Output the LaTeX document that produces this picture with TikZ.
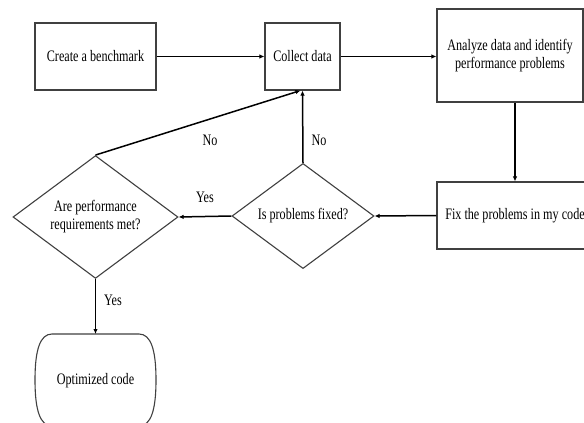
\documentclass[tikz,border=0pt]{standalone}
\usepackage{fontspec}
\setmainfont[FakeStretch=0.76]{Liberation Serif}
\usetikzlibrary{arrows.meta,shapes.geometric}

\begin{document}
\begin{tikzpicture}[x=1pt,y=-1pt,
  every node/.style={font=\fontsize{16}{18}\selectfont, text=black},
  box/.style={draw=black!75, line width=1.1pt, rectangle, inner sep=0pt},
  decision/.style={draw=black!75, line width=1.1pt, diamond, inner sep=0pt, align=center},
  flow/.style={draw=black, line width=1.5pt, -{Latex[length=5pt,width=4.5pt]}},
  lbl/.style={inner sep=0pt}
]
\useasboundingbox (0,0) rectangle (584,423);
\clip (0,0) rectangle (584,423);
\fill[white] (0,0) rectangle (584,423);

% process boxes
\node[box, minimum width=121pt, minimum height=67pt] (create) at (95.5,56.5) {Create a benchmark};
\node[box, minimum width=75pt, minimum height=67pt] (collect) at (302.5,56.5) {Collect data};
\node[box, minimum width=146pt, minimum height=93pt, align=center] (analyze) at (510,55.5)
  {Analyze data and identify\\performance problems};
\node[box, minimum width=156pt, minimum height=67pt] (fix) at (515,215.5) {Fix the problems in my code};

% decisions
\node[decision, minimum width=142pt, minimum height=74pt] (fixed) at (303,216) {Is problems fixed?};
\node[decision, minimum width=165pt, minimum height=100pt] (req) at (95.5,217)
  {Are performance\\requirements met?};

% terminal
\coordinate (opttop) at (95.5,334);
\draw[draw=black!75, line width=1.1pt]
  (52,334) -- (139,334) .. controls (151,334) and (156,350) .. (156,380)
  .. controls (156,410) and (151,426) .. (139,426) -- (52,426)
  .. controls (40,426) and (35,410) .. (35,380)
  .. controls (35,350) and (40,334) .. (52,334);
\node (opt) at (95.5,381) {Optimized code};

% connectors
\draw[flow] (create.east) -- (collect.west);
\draw[flow] (collect.east) -- (collect.east -| analyze.west);
\draw[flow] (analyze.south -| fix.north) -- (fix.north);
\draw[flow] (fix.west) -- (fixed.east);
\draw[flow] (fixed.north) -- (collect.south);
\draw[flow] (fixed.west) -- (req.east);
\draw[flow] (req.north) -- ([xshift=-2pt]collect.south);
\draw[flow] (req.south) -- (opttop);

% branch labels
\node[lbl] (no1) at (210,140) {No};
\node[lbl] (no2) at (319,140) {No};
\node[lbl] (yes1) at (205,197) {Yes};
\node[lbl] (yes2) at (113,300) {Yes};
\end{tikzpicture}
\end{document}
